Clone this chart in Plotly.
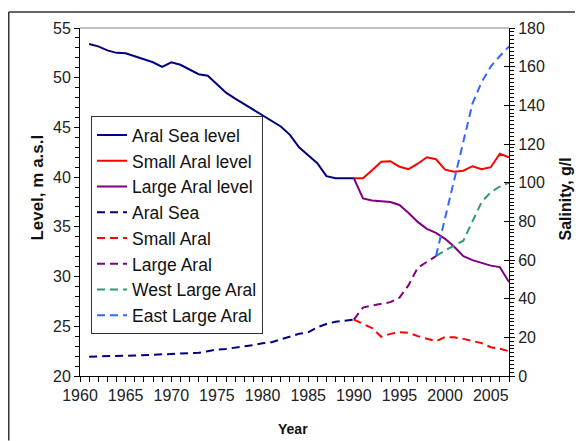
import plotly.graph_objects as go

# ---- data ----
years_aral = list(range(1961, 1991))
aral_level = [53.4, 53.15, 52.75, 52.5, 52.45, 52.15, 51.8, 51.55, 51.1, 51.55,
              51.3, 50.85, 50.35, 50.2, 49.35, 48.5, 47.9, 47.35, 46.8, 46.25,
              45.7, 45.1, 44.25, 43.0, 42.2, 41.4, 40.1, 39.9, 39.9, 39.9]
aral_salinity = [10.0, 10.2, 10.3, 10.5, 10.5, 10.6, 10.8, 11.0, 11.0, 11.1,
                 11.3, 11.6, 12.0, 12.8, 13.7, 14.0, 14.6, 15.2, 16.0, 16.9,
                 17.5, 19.0, 20.5, 21.8, 22.6, 25.2, 26.9, 28.1, 28.6, 29.2]

years_split = list(range(1990, 2008))
small_level = [39.9, 39.9, 40.7, 41.55, 41.6, 41.05, 40.8, 41.35, 42.0, 41.8,
               40.75, 40.55, 40.65, 41.1, 40.8, 41.0, 42.35, 42.0]
large_level = [39.9, 37.86, 37.65, 37.6, 37.5, 37.2, 36.4, 35.5, 34.8, 34.4,
               33.8, 33.0, 32.05, 31.65, 31.35, 31.1, 30.95, 29.45]
small_salinity = [29.2, 26.9, 24.8, 20.3, 21.8, 22.6, 22.4, 20.6, 19.5, 18.0,
                  20.2, 20.0, 19.2, 18.0, 17.0, 14.9, 14.1, 12.8]

years_large = list(range(1990, 2000))
large_salinity = [29.2, 35.4, 36.4, 37.3, 38.2, 40.5, 47.0, 56.0, 59.0, 62.0]

years_wl = list(range(1999, 2008))
west_salinity = [62, 65, 67.5, 70, 80, 90, 95, 98, 100]
east_salinity = [62, 82, 101, 121, 141, 152, 160, 165.5, 170.5]

x_ticks = [1960, 1965, 1970, 1975, 1980, 1985, 1990, 1995, 2000, 2005]

NAVY = "#000080"
RED = "#FF0000"
PURPLE = "#800080"
GREEN = "#339966"
BLUE = "#3366FF"
DASH = "8px,5px"
FONT = "Liberation Sans, Arial, sans-serif"

fig = go.Figure()

def add(x, y, name, color, dashed, axis):
    fig.add_trace(go.Scatter(
        x=x, y=y, name=name, mode="lines", yaxis=axis, legendgroup=name,
        line=dict(color=color, width=2, dash=DASH if dashed else "solid"),
    ))

add(years_aral, aral_level, "Aral Sea level", NAVY, False, "y")
add(years_split, small_level, "Small Aral level", RED, False, "y")
add(years_split, large_level, "Large Aral level", PURPLE, False, "y")
add(years_aral, aral_salinity, "Aral Sea", NAVY, True, "y2")
add(years_split, small_salinity, "Small Aral", RED, True, "y2")
add(years_large, large_salinity, "Large Aral", PURPLE, True, "y2")
add(years_wl, west_salinity, "West Large Aral", GREEN, True, "y2")
add(years_wl, east_salinity, "East Large Aral", BLUE, True, "y2")

# invisible trace to host inside ticks on right axis
fig.add_trace(go.Scatter(x=[1960], y=[0], yaxis="y3", mode="markers",
                         marker=dict(opacity=0), showlegend=False, hoverinfo="skip"))

tickfont = dict(family=FONT, size=16, color="#222222")

# page offset of 8px (body margin) is compensated in the margins
W, H = 575, 433
L, T = 72, 17
PW, PH = 429, 351
R, B = W - L - PW, H - T - PH
BOT = H - B  # plot bottom in figure px


def px(xf):
    return (xf - L) / PW


def py(yf):
    return (BOT - yf) / PH


fig.update_layout(
    width=W, height=H,
    margin=dict(l=L, r=R, t=T, b=B),
    paper_bgcolor="white", plot_bgcolor="white",
    font=dict(family=FONT, color="#111111"),
    showlegend=True,
    legend=dict(
        x=px(83), y=py(106), xanchor="left", yanchor="top",
        bgcolor="white", bordercolor="#333333", borderwidth=1,
        font=dict(family=FONT, size=17.5, color="#111111"),
        tracegroupgap=0, traceorder="normal",
    ),
    xaxis=dict(
        range=[1960, 2007], tickmode="array", tickvals=x_ticks,
        ticks="outside", ticklen=5, tickcolor="black",
        minor=dict(dtick=1, tick0=1960, ticks="outside", ticklen=5, tickcolor="black"),
        showline=True, linecolor="black", linewidth=1,
        showgrid=False, zeroline=False, tickfont=tickfont,
    ),
    yaxis=dict(
        range=[20, 55], dtick=5, tick0=20,
        ticks="outside", ticklen=5, tickcolor="black",
        minor=dict(dtick=1, ticks="outside", ticklen=4, tickcolor="black"),
        showline=True, linecolor="black", linewidth=1,
        showgrid=False, zeroline=False, tickfont=tickfont,
    ),
    yaxis2=dict(
        range=[0, 180], dtick=20, tick0=0, overlaying="y", side="right", anchor="x",
        ticks="outside", ticklen=5, tickcolor="black",
        minor=dict(dtick=2, ticks="outside", ticklen=4, tickcolor="black"),
        showline=True, linecolor="black", linewidth=1,
        showgrid=False, zeroline=False, tickfont=tickfont,
    ),
    yaxis3=dict(
        range=[0, 180], dtick=20, tick0=0, overlaying="y", side="right", anchor="x",
        ticks="inside", ticklen=5, tickcolor="black", showticklabels=False,
        showline=False, showgrid=False, zeroline=False,
    ),
    annotations=[
        dict(text="<b>Level, m a.s.l</b>", xref="paper", yref="paper",
             x=px(30), y=py(178), textangle=-90, showarrow=False,
             xanchor="center", yanchor="middle",
             font=dict(family=FONT, size=17, color="#111111")),
        dict(text="<b>Salinity, g/l</b>", xref="paper", yref="paper",
             x=px(558), y=py(190), textangle=-90, showarrow=False,
             xanchor="center", yanchor="middle",
             font=dict(family=FONT, size=16, color="#111111")),
        dict(text="<b>Year</b>", xref="paper", yref="paper",
             x=px(285), y=py(421), showarrow=False,
             xanchor="center", yanchor="middle",
             font=dict(family=FONT, size=14, color="#111111")),
    ],
    shapes=[
        dict(type="line", xref="paper", yref="paper", x0=0, x1=1, y0=1, y1=1,
             line=dict(color="#aaaaaa", width=1.5)),
        dict(type="line", xref="paper", yref="paper", x0=px(0.75), x1=px(W),
             y0=py(0.75), y1=py(0.75), line=dict(color="#333333", width=1.5)),
        dict(type="line", xref="paper", yref="paper", x0=px(0.75), x1=px(0.75),
             y0=py(0.75), y1=py(H), line=dict(color="#333333", width=1.5)),
    ],
)

fig.write_html("out.html")
